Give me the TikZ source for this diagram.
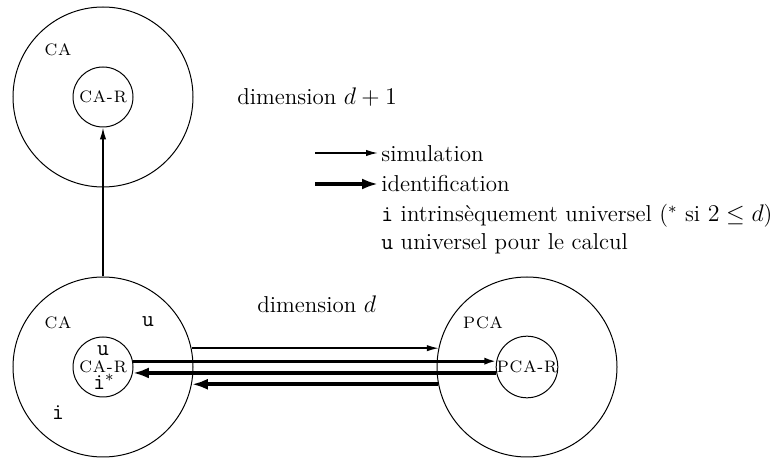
\documentclass[tikz,border=0pt]{standalone}
\usetikzlibrary{arrows.meta}
\newcommand\gk{\kern0.45pt}
\begin{document}
\begin{tikzpicture}[x=0.5pt,y=-0.5pt,
  big/.style={draw,circle,line width=0.5pt,minimum size=90pt,inner sep=0pt},
  small/.style={draw,circle,line width=0.5pt,minimum size=30pt,inner sep=0pt,font=\fontsize{8.3}{10}\selectfont},
  lab/.style={inner sep=0pt,font=\fontsize{8.3}{10}\selectfont},
  txt/.style={inner sep=0pt,font=\fontsize{11.5}{14}\selectfont},
  tt/.style={inner sep=0pt,font=\fontsize{11.5}{14}\selectfont\ttfamily},
  sim/.style={line width=0.75pt,-{Latex[length=6pt,width=3.2pt]}},
  simb/.style={line width=1.5pt,-{Latex[length=6pt,width=3.6pt]}},
  ident/.style={line width=2pt,-{Latex[length=8pt,width=5.5pt]}}
]
\useasboundingbox (0,0) rectangle (771,459);
% top
\node[big] (topCA) at (103,97) {};
\node[small] (topR) at (103,97) {C\gk A\gk-\gk R};
\node[lab] (topCAl) at (58,50) {C\gk A};
\node[txt,anchor=base west] (dim1) at (237,105) {dimension $d+1$};
% bottom left
\node[big] (botCA) at (103,367) {};
\node[small] (botR) at (103,367) {C\gk A\gk-\gk R};
\node[lab] (botCAl) at (58,323) {C\gk A};
\node[tt] (uout) at (148,322) {u};
\node[tt] (iout) at (58,413) {i};
\node[tt,anchor=base] (uin) at (103,356) {u};
\node[tt,anchor=base] (iin) at (104,390) {i$^*$};
% bottom right
\node[big] (PCA) at (527,367) {};
\node[small] (pcaR) at (527,367) {P\gk C\gk A\gk-\gk R};
\node[lab] (PCAl) at (483,323) {P\gk C\gk A};
\node[txt,anchor=base west] (dim0) at (257,313) {dimension $d$};
% connectors
\draw[sim] (botCA.north) -- (topR.south);
\draw[sim] (botCA.12.2) -- (botCA.12.2 -| PCA.167.8);
\draw[simb] (botR.11.5) -- (botR.11.5 -| pcaR.168.5);
\draw[ident] (pcaR.191.5) -- (pcaR.191.5 -| botR.-11.5);
\draw[ident] (PCA.191.5) -- (PCA.191.5 -| botCA.-11.5);
% legend
\coordinate (l1a) at (315,153);
\coordinate (l1b) at (378,153);
\coordinate (l2a) at (315,184);
\coordinate (l2b) at (378,184);
\draw[sim] (l1a) -- (l1b);
\draw[ident] (l2a) -- (l2b);
\node[txt,anchor=base west] (leg1) at (381,162) {simulation};
\node[txt,anchor=base west] (leg2) at (381,192) {identification};
\node[txt,anchor=base west] (leg3) at (381,222) {\texttt{i} intrinsèquement universel ($^*$ si $2\leq d$)};
\node[txt,anchor=base west] (leg4) at (381,250) {\texttt{u} universel pour le calcul};
\end{tikzpicture}
\end{document}
